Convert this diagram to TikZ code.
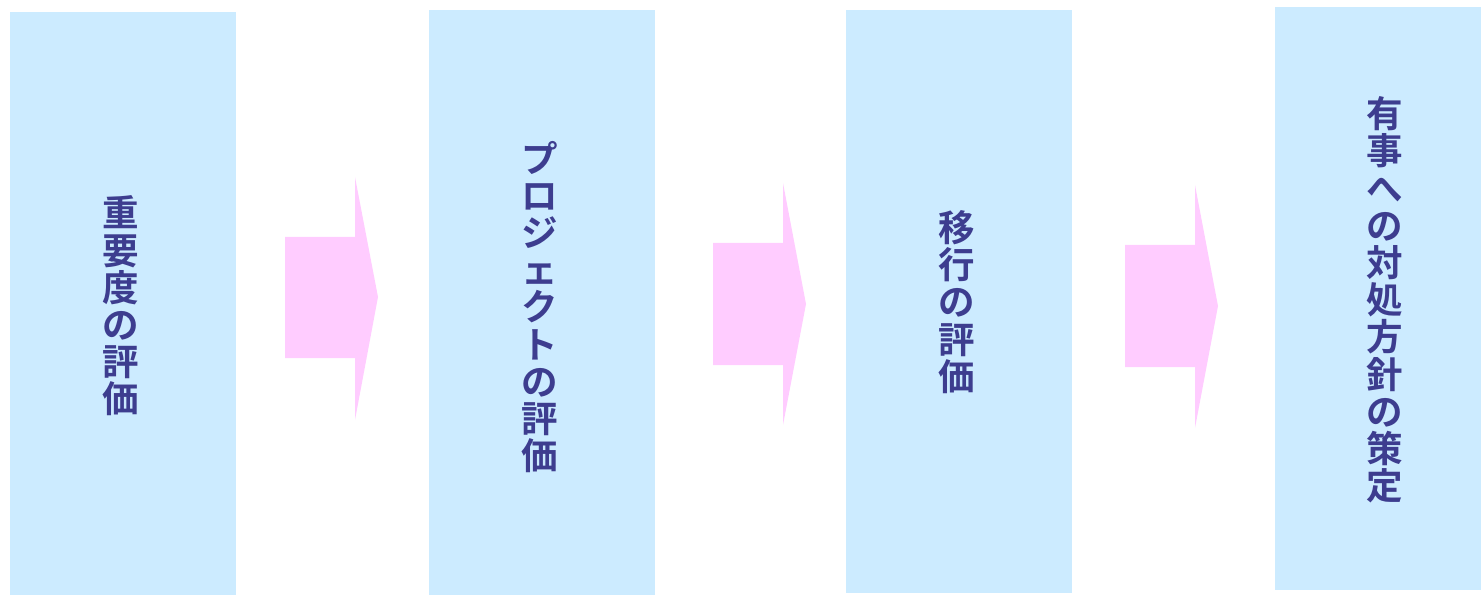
\documentclass[tikz,border=0pt]{standalone}
\usepackage{fontspec}
\newfontfamily\cjk{Noto Sans CJK JP}[BoldFont={* Bold}]
\definecolor{boxfill}{HTML}{CCEBFF}
\definecolor{arrowfill}{HTML}{FFCCFF}
\definecolor{txt}{HTML}{3D3D8F}
\begin{document}
\begin{tikzpicture}[x=1pt,y=-1pt,
  stepbox/.style={fill=boxfill,draw=none},
  vlabel/.style={text=txt,align=center,font=\cjk\bfseries\fontsize{36.5}{37.2}\selectfont,inner sep=0pt},
  blockarrow/.style={fill=arrowfill,draw=none}]
\useasboundingbox (0,0) rectangle (1481,596);
% boxes
\path[stepbox] (10,12) rectangle (236,595);
\path[stepbox] (429,10) rectangle (655,595);
\path[stepbox] (846,10) rectangle (1072,593);
\path[stepbox] (1275,7) rectangle (1481,590);
% labels
\node[vlabel] (t1) at (121,306) {重\\要\\度\\の\\評\\価};
\node[vlabel] (t2) at (540,307) {プ\\ロ\\ジ\\ェ\\ク\\ト\\の\\評\\価};
\node[vlabel] (t3) at (957,302) {移\\行\\の\\評\\価};
\node[vlabel] (t4) at (1385,300) {有\\事\\へ\\の\\対\\処\\方\\針\\の\\策\\定};
% arrows
\path[blockarrow] (285,237) -- (355,237) -- (355,177) -- (378,297) -- (355,420) -- (355,358) -- (285,358) -- cycle;
\path[blockarrow] (713,243) -- (783,243) -- (783,183) -- (806,304) -- (783,425) -- (783,365) -- (713,365) -- cycle;
\path[blockarrow] (1125,245) -- (1195,245) -- (1195,185) -- (1218,306) -- (1195,428) -- (1195,367) -- (1125,367) -- cycle;
\end{tikzpicture}
\end{document}
